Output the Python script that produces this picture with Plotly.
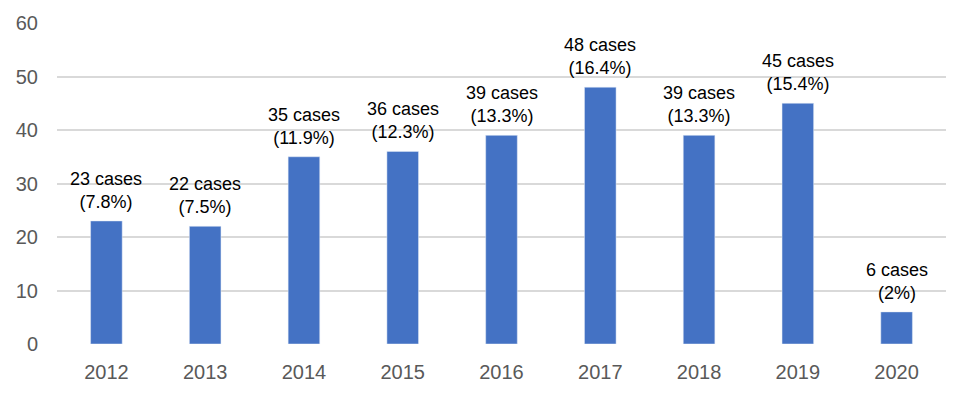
import plotly.graph_objects as go

years = ["2012", "2013", "2014", "2015", "2016", "2017", "2018", "2019", "2020"]
cases = [23, 22, 35, 36, 39, 48, 39, 45, 6]
percents = ["7.8%", "7.5%", "11.9%", "12.3%", "13.3%", "16.4%", "13.3%", "15.4%", "2%"]
y_ticks = [0, 10, 20, 30, 40, 50, 60]

fig = go.Figure(go.Bar(x=years, y=cases, marker_color="#4472C4", hoverinfo="skip"))

for i, (c, p) in enumerate(zip(cases, percents)):
    fig.add_annotation(x=i, y=c, xref="x", yref="y", text=f"{c} cases<br>({p})",
                       showarrow=False, yanchor="bottom", yshift=7,
                       font=dict(family="Liberation Sans", size=18, color="#000000"))

fig.update_layout(
    width=968, height=399,
    margin=dict(l=57, r=22, t=23, b=55),
    paper_bgcolor="white", plot_bgcolor="white",
    showlegend=False, bargap=0.68,
    font=dict(family="Liberation Sans"),
)
fig.update_xaxes(type="category", range=[-0.5, len(years) - 0.5], showgrid=False,
                 showline=False, ticks="outside", ticklen=10, tickcolor="rgba(0,0,0,0)",
                 tickfont=dict(size=20, color="#595959"))
fig.update_yaxes(range=[0, 60], tickvals=y_ticks, showgrid=True, gridcolor="#D9D9D9",
                 gridwidth=1.5, zeroline=False, showline=False,
                 ticks="outside", ticklen=14, tickcolor="rgba(0,0,0,0)",
                 tickfont=dict(size=20, color="#595959"))

fig.write_html("out.html", config={"displayModeBar": False},
               post_script="document.body.style.margin='0';")
